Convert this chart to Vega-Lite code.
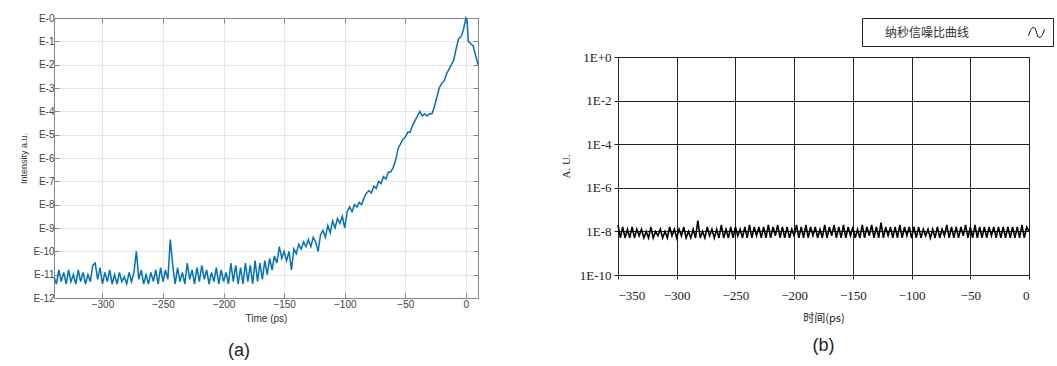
{
  "$schema": "https://vega.github.io/schema/vega-lite/v6.json",
  "background": "white",
  "padding": {"left": 19, "top": 13, "right": 0, "bottom": 0},
  "config": {"view": {"stroke": null}},
  "datasets": {
    "a": [
      {"t": -340, "v": -11.1}, {"t": -338, "v": -11.4}, {"t": -336, "v": -10.8}, {"t": -334, "v": -11.3}, {"t": -332, "v": -10.9},
      {"t": -330, "v": -11.4}, {"t": -328, "v": -10.8}, {"t": -326, "v": -11.3}, {"t": -324, "v": -11.0}, {"t": -322, "v": -11.4},
      {"t": -320, "v": -10.8}, {"t": -318, "v": -11.3}, {"t": -316, "v": -10.9}, {"t": -314, "v": -11.4}, {"t": -312, "v": -11.0},
      {"t": -310, "v": -11.3}, {"t": -308, "v": -10.6}, {"t": -306, "v": -10.5}, {"t": -304, "v": -11.2}, {"t": -302, "v": -10.7},
      {"t": -300, "v": -11.4}, {"t": -298, "v": -10.9}, {"t": -296, "v": -11.3}, {"t": -294, "v": -10.8}, {"t": -292, "v": -11.4},
      {"t": -290, "v": -11.0}, {"t": -288, "v": -11.4}, {"t": -286, "v": -10.9}, {"t": -284, "v": -11.3}, {"t": -282, "v": -11.1},
      {"t": -280, "v": -11.4}, {"t": -278, "v": -10.9}, {"t": -276, "v": -11.3}, {"t": -274, "v": -10.9}, {"t": -272, "v": -10.0},
      {"t": -270, "v": -11.2}, {"t": -268, "v": -10.8}, {"t": -266, "v": -11.4}, {"t": -264, "v": -11.0}, {"t": -262, "v": -11.4},
      {"t": -260, "v": -10.9}, {"t": -258, "v": -11.3}, {"t": -256, "v": -10.8}, {"t": -254, "v": -11.4}, {"t": -252, "v": -10.7},
      {"t": -250, "v": -11.3}, {"t": -248, "v": -10.8}, {"t": -246, "v": -11.2}, {"t": -244, "v": -9.5}, {"t": -242, "v": -10.6},
      {"t": -240, "v": -11.4}, {"t": -238, "v": -10.7}, {"t": -236, "v": -11.3}, {"t": -234, "v": -10.9}, {"t": -232, "v": -11.4},
      {"t": -230, "v": -10.5}, {"t": -228, "v": -11.2}, {"t": -226, "v": -10.8}, {"t": -224, "v": -11.4}, {"t": -222, "v": -10.7},
      {"t": -220, "v": -11.3}, {"t": -218, "v": -10.6}, {"t": -216, "v": -11.2}, {"t": -214, "v": -10.8}, {"t": -212, "v": -11.4},
      {"t": -210, "v": -10.9}, {"t": -208, "v": -11.3}, {"t": -206, "v": -10.7}, {"t": -204, "v": -11.4}, {"t": -202, "v": -10.8},
      {"t": -200, "v": -11.3}, {"t": -198, "v": -10.9}, {"t": -196, "v": -11.4}, {"t": -194, "v": -10.5}, {"t": -192, "v": -11.3},
      {"t": -190, "v": -10.6}, {"t": -188, "v": -11.4}, {"t": -186, "v": -10.7}, {"t": -184, "v": -11.4}, {"t": -182, "v": -10.5},
      {"t": -180, "v": -11.3}, {"t": -178, "v": -10.6}, {"t": -176, "v": -11.4}, {"t": -174, "v": -10.4}, {"t": -172, "v": -11.3},
      {"t": -170, "v": -10.5}, {"t": -168, "v": -11.2}, {"t": -166, "v": -10.4}, {"t": -164, "v": -11.0}, {"t": -162, "v": -10.3},
      {"t": -160, "v": -10.8}, {"t": -158, "v": -10.2}, {"t": -156, "v": -10.5}, {"t": -154, "v": -9.8}, {"t": -152, "v": -10.3},
      {"t": -150, "v": -10.0}, {"t": -148, "v": -10.4}, {"t": -146, "v": -10.0}, {"t": -144, "v": -10.8}, {"t": -142, "v": -9.9},
      {"t": -140, "v": -10.1}, {"t": -138, "v": -9.7}, {"t": -136, "v": -9.9}, {"t": -134, "v": -9.6}, {"t": -132, "v": -9.8},
      {"t": -130, "v": -9.5}, {"t": -128, "v": -9.8}, {"t": -126, "v": -9.4}, {"t": -124, "v": -9.6}, {"t": -122, "v": -10.0},
      {"t": -120, "v": -9.3}, {"t": -118, "v": -9.1}, {"t": -116, "v": -9.4}, {"t": -114, "v": -8.9}, {"t": -112, "v": -9.2},
      {"t": -110, "v": -8.7}, {"t": -108, "v": -9.0}, {"t": -106, "v": -8.6}, {"t": -104, "v": -8.8}, {"t": -102, "v": -8.5},
      {"t": -100, "v": -9.0}, {"t": -98, "v": -8.3}, {"t": -96, "v": -8.1}, {"t": -94, "v": -8.3}, {"t": -92, "v": -8.0},
      {"t": -90, "v": -8.1}, {"t": -88, "v": -7.9}, {"t": -86, "v": -8.0}, {"t": -84, "v": -7.7}, {"t": -82, "v": -7.5},
      {"t": -80, "v": -7.4}, {"t": -78, "v": -7.5}, {"t": -76, "v": -7.2}, {"t": -74, "v": -7.3}, {"t": -72, "v": -7.0},
      {"t": -70, "v": -7.1}, {"t": -68, "v": -6.8}, {"t": -66, "v": -6.9}, {"t": -64, "v": -6.6}, {"t": -62, "v": -6.6},
      {"t": -60, "v": -6.4}, {"t": -58, "v": -6.1}, {"t": -56, "v": -5.6}, {"t": -54, "v": -5.4}, {"t": -52, "v": -5.2},
      {"t": -50, "v": -5.1}, {"t": -48, "v": -4.9}, {"t": -46, "v": -4.9}, {"t": -44, "v": -4.6}, {"t": -42, "v": -4.4},
      {"t": -40, "v": -4.2}, {"t": -38, "v": -4.0}, {"t": -36, "v": -4.2}, {"t": -34, "v": -4.1}, {"t": -32, "v": -4.2},
      {"t": -30, "v": -4.1}, {"t": -28, "v": -4.1}, {"t": -26, "v": -3.8}, {"t": -24, "v": -3.4}, {"t": -22, "v": -3.0},
      {"t": -20, "v": -2.8}, {"t": -18, "v": -2.7}, {"t": -16, "v": -2.4}, {"t": -14, "v": -2.2}, {"t": -12, "v": -2.0},
      {"t": -10, "v": -1.8}, {"t": -8, "v": -1.3}, {"t": -6, "v": -0.9}, {"t": -4, "v": -0.8}, {"t": -2, "v": -0.5},
      {"t": 0, "v": 0.0}, {"t": 1, "v": -0.1}, {"t": 2, "v": -1.0}, {"t": 4, "v": -1.1}, {"t": 6, "v": -1.2},
      {"t": 8, "v": -1.6}, {"t": 10, "v": -2.0}
    ],
    "b": [
      {"t": -350, "v": -7.7}, {"t": -348, "v": -8.3}, {"t": -346, "v": -7.8}, {"t": -344, "v": -8.3}, {"t": -342, "v": -7.9},
      {"t": -340, "v": -8.3}, {"t": -338, "v": -7.8}, {"t": -336, "v": -8.3}, {"t": -334, "v": -7.9}, {"t": -332, "v": -8.2},
      {"t": -330, "v": -7.9}, {"t": -328, "v": -8.3}, {"t": -326, "v": -8.0}, {"t": -324, "v": -8.3}, {"t": -322, "v": -7.8},
      {"t": -320, "v": -8.3}, {"t": -318, "v": -8.0}, {"t": -316, "v": -8.2}, {"t": -314, "v": -7.9}, {"t": -312, "v": -8.3},
      {"t": -310, "v": -8.0}, {"t": -308, "v": -8.3}, {"t": -306, "v": -7.8}, {"t": -304, "v": -8.2}, {"t": -302, "v": -7.9},
      {"t": -300, "v": -8.3}, {"t": -298, "v": -7.9}, {"t": -296, "v": -8.2}, {"t": -294, "v": -7.8}, {"t": -292, "v": -8.3},
      {"t": -290, "v": -8.0}, {"t": -288, "v": -8.3}, {"t": -286, "v": -7.9}, {"t": -284, "v": -8.3}, {"t": -282, "v": -7.5},
      {"t": -280, "v": -8.3}, {"t": -278, "v": -8.0}, {"t": -276, "v": -8.3}, {"t": -274, "v": -7.8}, {"t": -272, "v": -8.2},
      {"t": -270, "v": -7.9}, {"t": -268, "v": -8.3}, {"t": -266, "v": -7.9}, {"t": -264, "v": -8.3}, {"t": -262, "v": -7.7},
      {"t": -260, "v": -8.3}, {"t": -258, "v": -7.9}, {"t": -256, "v": -8.3}, {"t": -254, "v": -7.8}, {"t": -252, "v": -8.3},
      {"t": -250, "v": -7.8}, {"t": -248, "v": -8.2}, {"t": -246, "v": -7.9}, {"t": -244, "v": -8.3}, {"t": -242, "v": -7.8},
      {"t": -240, "v": -8.3}, {"t": -238, "v": -7.7}, {"t": -236, "v": -8.3}, {"t": -234, "v": -7.8}, {"t": -232, "v": -8.2},
      {"t": -230, "v": -7.8}, {"t": -228, "v": -8.3}, {"t": -226, "v": -7.8}, {"t": -224, "v": -8.3}, {"t": -222, "v": -7.7},
      {"t": -220, "v": -8.3}, {"t": -218, "v": -7.8}, {"t": -216, "v": -8.2}, {"t": -214, "v": -7.7}, {"t": -212, "v": -8.3},
      {"t": -210, "v": -7.8}, {"t": -208, "v": -8.3}, {"t": -206, "v": -7.8}, {"t": -204, "v": -8.3}, {"t": -202, "v": -7.9},
      {"t": -200, "v": -8.2}, {"t": -198, "v": -7.7}, {"t": -196, "v": -8.3}, {"t": -194, "v": -7.8}, {"t": -192, "v": -8.3},
      {"t": -190, "v": -7.7}, {"t": -188, "v": -8.3}, {"t": -186, "v": -7.8}, {"t": -184, "v": -8.2}, {"t": -182, "v": -7.8},
      {"t": -180, "v": -8.3}, {"t": -178, "v": -7.9}, {"t": -176, "v": -8.3}, {"t": -174, "v": -7.7}, {"t": -172, "v": -8.3},
      {"t": -170, "v": -7.8}, {"t": -168, "v": -8.2}, {"t": -166, "v": -7.7}, {"t": -164, "v": -8.3}, {"t": -162, "v": -7.8},
      {"t": -160, "v": -8.3}, {"t": -158, "v": -7.7}, {"t": -156, "v": -8.3}, {"t": -154, "v": -7.8}, {"t": -152, "v": -8.2},
      {"t": -150, "v": -7.8}, {"t": -148, "v": -8.3}, {"t": -146, "v": -7.9}, {"t": -144, "v": -8.3}, {"t": -142, "v": -7.7},
      {"t": -140, "v": -8.3}, {"t": -138, "v": -7.8}, {"t": -136, "v": -8.2}, {"t": -134, "v": -7.7}, {"t": -132, "v": -8.3},
      {"t": -130, "v": -7.8}, {"t": -128, "v": -8.3}, {"t": -126, "v": -7.6}, {"t": -124, "v": -8.3}, {"t": -122, "v": -7.8},
      {"t": -120, "v": -8.2}, {"t": -118, "v": -7.8}, {"t": -116, "v": -8.3}, {"t": -114, "v": -7.8}, {"t": -112, "v": -8.3},
      {"t": -110, "v": -7.7}, {"t": -108, "v": -8.3}, {"t": -106, "v": -7.8}, {"t": -104, "v": -8.2}, {"t": -102, "v": -7.8},
      {"t": -100, "v": -8.3}, {"t": -98, "v": -7.8}, {"t": -96, "v": -8.3}, {"t": -94, "v": -7.8}, {"t": -92, "v": -8.3},
      {"t": -90, "v": -7.9}, {"t": -88, "v": -8.2}, {"t": -86, "v": -7.9}, {"t": -84, "v": -8.3}, {"t": -82, "v": -7.9},
      {"t": -80, "v": -8.3}, {"t": -78, "v": -7.8}, {"t": -76, "v": -8.3}, {"t": -74, "v": -7.9}, {"t": -72, "v": -8.2},
      {"t": -70, "v": -7.7}, {"t": -68, "v": -8.3}, {"t": -66, "v": -7.8}, {"t": -64, "v": -8.3}, {"t": -62, "v": -7.8},
      {"t": -60, "v": -8.3}, {"t": -58, "v": -7.8}, {"t": -56, "v": -8.2}, {"t": -54, "v": -7.7}, {"t": -52, "v": -8.3},
      {"t": -50, "v": -7.8}, {"t": -48, "v": -8.3}, {"t": -46, "v": -7.7}, {"t": -44, "v": -8.3}, {"t": -42, "v": -7.8},
      {"t": -40, "v": -8.3}, {"t": -38, "v": -7.8}, {"t": -36, "v": -8.3}, {"t": -34, "v": -7.8}, {"t": -32, "v": -8.2},
      {"t": -30, "v": -7.8}, {"t": -28, "v": -8.3}, {"t": -26, "v": -7.8}, {"t": -24, "v": -8.3}, {"t": -22, "v": -7.8},
      {"t": -20, "v": -8.3}, {"t": -18, "v": -7.8}, {"t": -16, "v": -8.3}, {"t": -14, "v": -7.8}, {"t": -12, "v": -8.3},
      {"t": -10, "v": -7.8}, {"t": -8, "v": -8.3}, {"t": -6, "v": -7.7}, {"t": -4, "v": -8.3}, {"t": -2, "v": -7.8},
      {"t": 0, "v": -8.0}
    ]
  },
  "concat": [
    {
      "width": 424,
      "height": 280,
      "title": {"text": "(a)", "orient": "bottom", "fontSize": 18, "font": "Liberation Sans", "fontWeight": "normal", "color": "#222", "offset": 19, "dx": -27},
      "data": {"name": "a"},
      "layer": [
        {
          "mark": {"type": "line", "color": "#0072BD", "strokeWidth": 1.5},
          "encoding": {
            "x": {"field": "t", "type": "quantitative", "scale": {"domain": [-340, 10], "nice": false, "zero": false},
              "axis": {"orient": "bottom", "values": [-300, -250, -200, -150, -100, -50, 0], "title": "Time (ps)", "titleFont": "Liberation Sans", "titleFontSize": 10, "titleFontWeight": "normal", "titleColor": "#333", "titlePadding": 4,
                "labelFont": "Liberation Sans", "labelFontSize": 10, "labelColor": "#444", "labelPadding": 6, "tickSize": -5, "tickColor": "#888", "domainColor": "#888", "gridColor": "#e6e6e6", "grid": true}},
            "y": {"field": "v", "type": "quantitative", "scale": {"domain": [-12, 0], "nice": false, "zero": false},
              "axis": {"orient": "left", "values": [-12, -11, -10, -9, -8, -7, -6, -5, -4, -3, -2, -1, 0], "labelExpr": "'E-' + abs(datum.value)", "title": "Intensity a.u.", "titleFont": "Liberation Sans", "titleFontSize": 9, "titleFontWeight": "normal", "titleColor": "#333", "titlePadding": 4,
                "labelFont": "Liberation Sans", "labelFontSize": 10, "labelColor": "#444", "labelPadding": 5, "tickSize": -5, "tickColor": "#888", "domainColor": "#888", "gridColor": "#e6e6e6", "grid": true}}
          }
        },
        {
          "mark": {"type": "line", "strokeOpacity": 0},
          "encoding": {
            "x": {"field": "t", "type": "quantitative", "axis": {"orient": "top", "values": [-300, -250, -200, -150, -100, -50, 0], "labels": false, "title": null, "tickSize": -5, "tickColor": "#888", "domainColor": "#888", "grid": false}},
            "y": {"field": "v", "type": "quantitative", "axis": {"orient": "right", "values": [-12, -11, -10, -9, -8, -7, -6, -5, -4, -3, -2, -1, 0], "labels": false, "title": null, "tickSize": -5, "tickColor": "#888", "domainColor": "#888", "grid": false}}
          }
        }
      ],
      "resolve": {"axis": {"x": "independent", "y": "independent"}}
    },
    {
      "vconcat": [
        {
          "width": 411,
          "height": 30,
          "data": {"name": "b"},
          "mark": {"type": "line", "strokeOpacity": 0},
          "encoding": {
            "color": {"datum": "纳秒信噪比曲线", "type": "nominal", "scale": {"range": ["black"]},
              "legend": {"orient": "none", "legendX": 244, "legendY": 0, "title": null, "direction": "horizontal", "strokeColor": "#222", "padding": 6,
                "labelFont": "Noto Sans CJK SC", "labelFontSize": 12, "labelColor": "#333",
                "symbolType": "M-1,0.4C-0.6,-0.9,-0.2,-0.9,0,0C0.2,0.9,0.6,0.9,1,-0.4", "symbolSize": 256, "symbolStrokeWidth": 1, "symbolFillColor": "transparent", "symbolStrokeColor": "#333", "symbolOpacity": 1,
                "symbolOffset": 160, "labelOffset": -160}}
          }
        },
        {
          "width": 411,
          "height": 218,
          "title": {"text": "(b)", "orient": "bottom", "fontSize": 18, "font": "Liberation Sans", "fontWeight": "normal", "color": "#222", "offset": 14},
          "data": {"name": "b"},
          "mark": {"type": "line", "strokeWidth": 1.6, "color": "black"},
          "encoding": {
            "x": {"field": "t", "type": "quantitative", "scale": {"domain": [-350, 0], "nice": false, "zero": false},
              "axis": {"values": [-350, -300, -250, -200, -150, -100, -50, 0], "title": "时间(ps)", "titleFont": "Noto Sans CJK SC", "titleFontSize": 11, "titleFontWeight": "normal", "titleColor": "#222", "titlePadding": 10,
                "labelFont": "Liberation Serif", "labelFontSize": 13, "labelColor": "#222", "labelPadding": 10, "tickSize": 4, "tickColor": "#222", "domainColor": "#222", "gridColor": "#222", "gridOpacity": 1, "grid": true}},
            "y": {"field": "v", "type": "quantitative", "scale": {"domain": [-10, 0], "nice": false, "zero": false},
              "axis": {"values": [-10, -8, -6, -4, -2, 0], "labelExpr": "datum.value == 0 ? '1E+0' : '1E' + datum.value", "title": "A. U.", "titleFont": "Liberation Serif", "titleFontSize": 11, "titleFontWeight": "normal", "titleColor": "#222", "titlePadding": 8,
                "labelFont": "Liberation Serif", "labelFontSize": 13, "labelColor": "#222", "labelPadding": 3, "tickSize": 4, "tickColor": "#222", "domainColor": "#222", "gridColor": "#222", "gridOpacity": 1, "grid": true}}
          }
        }
      ],
      "spacing": 3,
      "resolve": {"scale": {"color": "independent"}, "legend": {"color": "independent"}}
    }
  ],
  "resolve": {"scale": {"color": "independent"}, "legend": {"color": "independent"}},
  "columns": 2,
  "spacing": 79
}
